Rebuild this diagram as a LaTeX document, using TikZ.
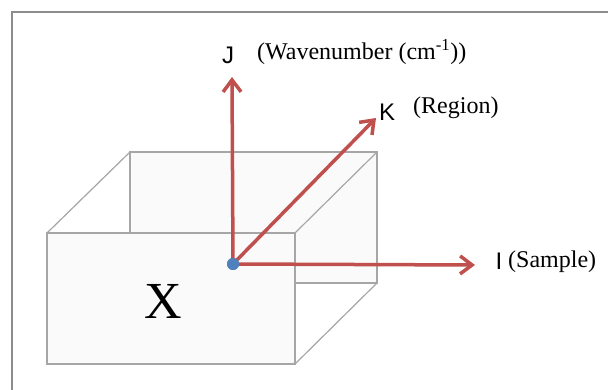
\documentclass[tikz,border=0pt]{standalone}
\usepackage{fontspec}
\setmainfont{Liberation Serif}
\newfontfamily\axfont{Liberation Sans}
\usetikzlibrary{arrows.meta}
\definecolor{axred}{HTML}{C0504D}
\definecolor{dotblue}{HTML}{4F81BD}
\definecolor{boxgray}{HTML}{A6A6A6}
\definecolor{framegray}{HTML}{8C8C8C}
\definecolor{facefill}{HTML}{FAFAFA}
\tikzset{
  boxline/.style={draw=boxgray, line width=1.2pt},
  axis/.style={draw=axred, line width=3.5pt, -{Straight Barb[length=12pt,width=18pt,line width=3.5pt]}},
  axlabel/.style={font=\axfont\fontsize{24}{28}\selectfont, inner sep=0pt},
  desc/.style={font=\fontsize{24}{27}\selectfont, inner sep=0pt, anchor=west},
}
\begin{document}
\begin{tikzpicture}[x=1pt,y=-1pt]
\clip (0,0) rectangle (608,390);
\fill[white] (0,0) rectangle (608,390);
% frame
\draw[framegray, line width=2.5pt] (12,400) -- (12,12) -- (620,12);
% back face
\draw[boxline, fill=facefill] (130,152) rectangle (377,283);
% diagonals
\draw[boxline] (47,233) -- (130,152);
\draw[boxline] (295,233) -- (377,152);
\draw[boxline] (295,364) -- (377,283);
% front face
\draw[boxline, fill=facefill] (47,233) rectangle (295,364);
\node[font=\fontsize{52}{56}\selectfont, inner sep=0pt] (x) at (163,301) {X};
% axes
\coordinate (jtip) at (232,77);
\coordinate (ktip) at (376,118);
\coordinate (itip) at (475,265);
\node[circle, fill=dotblue, minimum size=12pt, inner sep=0pt] (o) at (233,264) {};
\draw[axis] (o.center) -- (jtip);
\draw[axis] (o.center) -- (ktip);
\draw[axis] (o.center) -- (itip);
\fill[dotblue] (o) circle (6pt);
% labels
\node[axlabel] (jl) at (228,55) {J};
\node[desc] (jd) at (257,52) {(Wavenumber (cm\textsuperscript{-1}))};
\node[axlabel] (kl) at (387,112) {K};
\node[desc] (kd) at (413,108) {(Region)};
\node[axlabel] (il) at (499,261) {I};
\node[desc] (id) at (508,262) {(Sample)};
\end{tikzpicture}
\end{document}
